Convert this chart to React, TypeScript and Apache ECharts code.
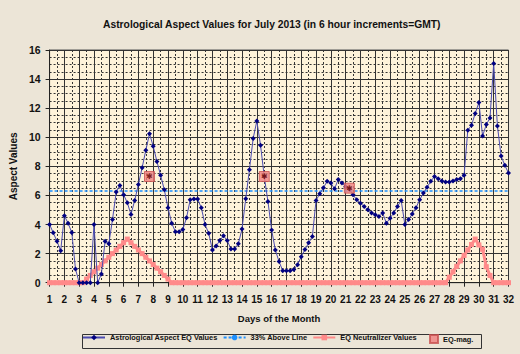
import React, { useEffect, useRef } from "react";
import * as echarts from "echarts";

const titleText = "Astrological Aspect Values for July 2013 (in 6 hour increments=GMT)";
const xAxisName = "Days of the Month";
const yAxisName = "Aspect Values";
const seriesNames = ["Astrological Aspect EQ Values", "33% Above Line", "EQ Neutralizer Values", "EQ-mag."];

// one value every 6 hours, from day 1 to day 32
const eqValues = [
  4.0, 3.43, 2.85, 2.2, 4.6, 4.09, 3.45, 0.94,
  0, 0, 0, 0, 4.0, 0, 0.6, 2.85,
  2.67, 4.34, 6.23, 6.69, 6.05, 5.5, 4.69, 5.66,
  6.76, 7.9, 9.1, 10.25, 9.38, 8.34, 7.38, 6.39,
  5.15, 4.09, 3.5, 3.5, 3.66, 4.46, 5.7, 5.75,
  5.75, 5.15, 4.0, 3.4, 2.25, 2.53, 2.9, 3.22,
  2.9, 2.32, 2.32, 2.67, 3.7, 5.77, 7.77, 9.91,
  11.12, 9.45, 7.3, 5.59, 3.63, 2.25, 1.45, 0.83,
  0.83, 0.83, 0.9, 1.24, 1.79, 2.28, 2.74, 3.17,
  5.66, 6.11, 6.53, 6.97, 6.85, 6.46, 7.1, 6.85,
  6.6, 6.4, 6.05, 5.7, 5.47, 5.24, 5.01, 4.8,
  4.67, 4.55, 4.8, 4.09, 4.44, 4.8, 5.24, 5.66,
  4.0, 4.34, 4.73, 5.15, 5.7, 6.16, 6.57, 6.97,
  7.31, 7.15, 6.99, 6.92, 6.92, 6.99, 7.1, 7.15,
  7.38, 10.48, 10.83, 11.63, 12.39, 10.09, 10.87, 11.33,
  15.08, 10.78, 8.71, 8.07, 7.54,
];

const neutralizerValues = [
  0, 0, 0, 0, 0, 0, 0, 0,
  0, 0, 0.25, 0.5, 0.75, 1.0, 1.25, 1.5,
  1.75, 2.0, 2.25, 2.5, 2.75, 3.0, 2.75, 2.5,
  2.25, 2.0, 1.75, 1.5, 1.25, 1.0, 0.75, 0.5,
  0.25, 0, 0, 0, 0, 0, 0, 0,
  0, 0, 0, 0, 0, 0, 0, 0,
  0, 0, 0, 0, 0, 0, 0, 0,
  0, 0, 0, 0, 0, 0, 0, 0,
  0, 0, 0, 0, 0, 0, 0, 0,
  0, 0, 0, 0, 0, 0, 0, 0,
  0, 0, 0, 0, 0, 0, 0, 0,
  0, 0, 0, 0, 0, 0, 0, 0,
  0, 0, 0, 0, 0, 0, 0, 0,
  0, 0, 0, 0, 0.375, 0.75, 1.125, 1.5,
  1.875, 2.25, 2.625, 3.0, 2.6, 2.3, 1.1, 0.5,
  0, 0, 0, 0, 0,
];

const aboveLineValue = 6.3;
const aboveLineDays = [1, 32];

const eqMagDays = [7.75, 15.5, 21.25];
const eqMagValues = [7.3, 7.3, 6.5];

const stepsPerDay = 4;
const firstDay = 1;
const lastDay = 32;

const FONT = "'Liberation Sans', Arial, sans-serif";

export default function App() {
  const ref = useRef<HTMLDivElement>(null);

  useEffect(() => {
    if (!ref.current) return;
    const chart = echarts.init(ref.current, null, { renderer: "svg" });
    const dayAt = (i: number) => firstDay + i / stepsPerDay;
    const eqData = eqValues.map((v, i) => [dayAt(i), v]);
    const neutData = neutralizerValues.map((v, i) => [dayAt(i), v]);
    const lineData = aboveLineDays.map((d) => [d, aboveLineValue]);
    const magData = eqMagDays.map((d, i) => [d, eqMagValues[i]]);

    const legendText = { fontFamily: FONT, fontSize: 7.4, fontWeight: "bold", color: "#111" };

    chart.setOption({
      animation: false,
      backgroundColor: "#ECE5D7",
      textStyle: { fontFamily: FONT },
      title: {
        text: titleText,
        left: 103,
        top: 19,
        padding: 0,
        textStyle: { fontFamily: FONT, fontSize: 10.3, fontWeight: "bold", color: "#111" },
      },
      graphic: [
        {
          type: "rect",
          left: 80,
          top: 332,
          shape: { width: 399, height: 14 },
          style: { fill: "none", stroke: "#333", lineWidth: 1 },
          silent: true,
        },
      ],
      legend: [
        {
          left: 82,
          top: 334,
          padding: 0,
          itemGap: 5,
          itemWidth: 22,
          itemHeight: 7,
          textStyle: legendText,
          data: [{ name: seriesNames[0] }, { name: seriesNames[1] }, { name: seriesNames[2] }],
        },
        {
          left: 429,
          top: 334,
          padding: 0,
          itemWidth: 8,
          itemHeight: 8,
          textStyle: legendText,
          data: [{ name: seriesNames[3] }],
        },
      ],
      grid: {
        left: 46.5,
        top: 50,
        right: 11.5,
        bottom: 71.3,
        show: true,
        backgroundColor: "#FEF3DA",
        borderColor: "#555",
        borderWidth: 1,
      },
      xAxis: {
        type: "value",
        min: firstDay,
        max: lastDay,
        interval: 1,
        name: xAxisName,
        nameLocation: "middle",
        nameGap: 31,
        nameTextStyle: { fontFamily: FONT, fontSize: 9.5, fontWeight: "bold", color: "#111" },
        axisLine: { show: true, onZero: false, lineStyle: { color: "#222", width: 1 } },
        axisTick: { show: true, length: 4, lineStyle: { color: "#222" } },
        axisLabel: { margin: 12, fontFamily: FONT, fontSize: 10, fontWeight: "bold", color: "#111" },
        splitLine: { show: true, lineStyle: { color: "#333", width: 1 } },
        minorTick: { show: false, splitNumber: 2 },
        minorSplitLine: { show: true, lineStyle: { color: "#333", width: 1, type: [2, 2] } },
      },
      yAxis: {
        type: "value",
        min: 0,
        max: 16,
        interval: 2,
        name: yAxisName,
        nameLocation: "middle",
        nameGap: 28,
        nameTextStyle: { fontFamily: FONT, fontSize: 10, fontWeight: "bold", color: "#111" },
        axisLine: { show: true, lineStyle: { color: "#222", width: 1 } },
        axisTick: { show: true, length: 4, lineStyle: { color: "#222" } },
        axisLabel: { margin: 9, fontFamily: FONT, fontSize: 10.5, fontWeight: "bold", color: "#111" },
        splitLine: { show: true, lineStyle: { color: "#333", width: 1 } },
        minorTick: { show: false, splitNumber: 4 },
        minorSplitLine: { show: true, lineStyle: { color: "#333", width: 1, type: [2, 2] } },
      },
      series: [
        {
          name: seriesNames[2],
          type: "line",
          data: neutData,
          symbol: "rect",
          symbolSize: 5,
          showSymbol: true,
          lineStyle: { color: "#FF8A8A", width: 3 },
          itemStyle: { color: "#FF8A8A" },
          z: 2,
        },
        {
          name: seriesNames[1],
          type: "line",
          data: lineData,
          symbol: "none",
          lineStyle: { color: "#1E90FF", width: 1.5, type: [3, 2] },
          itemStyle: { color: "#1E90FF" },
          z: 3,
        },
        {
          name: seriesNames[0],
          type: "line",
          data: eqData,
          symbol: "diamond",
          symbolSize: 5,
          showSymbol: true,
          lineStyle: { color: "#4B4BB0", width: 1 },
          itemStyle: { color: "#000080" },
          z: 4,
        },
        {
          name: seriesNames[3],
          type: "scatter",
          data: magData,
          symbol: "rect",
          symbolSize: 10,
          itemStyle: { color: "#F08080", borderColor: "#C85050", borderWidth: 1 },
          label: {
            show: true,
            position: "inside",
            formatter: "✱",
            fontSize: 8,
            color: "#600000",
          },
          z: 5,
        },
      ],
    });
    return () => chart.dispose();
  }, []);

  return <div ref={ref} style={{ position: "fixed", left: 0, top: 0, width: 520, height: 354 }} />;
}
